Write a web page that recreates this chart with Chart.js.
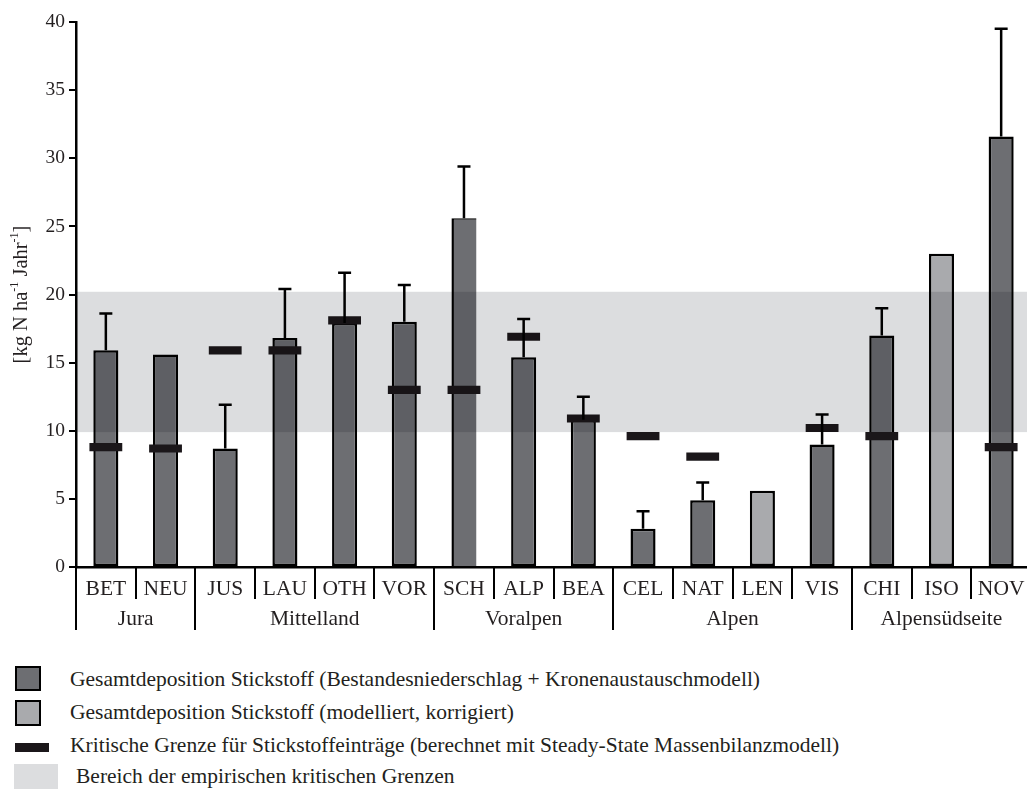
<!DOCTYPE html>
<html>
<head>
<meta charset="utf-8">
<script src="https://cdn.jsdelivr.net/npm/chart.js@4/dist/chart.umd.min.js"></script>
<style>
html,body{margin:0;padding:0;background:#fff;overflow:hidden;width:1027px;height:789px}
#wrap{position:relative;width:1027px;height:789px;overflow:hidden}
#chart{position:absolute;left:0;top:0}
.sw{position:absolute;box-sizing:border-box}
.txt{position:absolute;font-family:"Liberation Serif",serif;font-size:21.5px;line-height:24px;color:#231f20;white-space:nowrap}
</style>
</head>
<body>
<div id="wrap">
<canvas id="chart" width="1031" height="640"></canvas>

<div class="sw" style="left:15px;top:666px;width:26px;height:25px;background:#6d6e72;border:2.5px solid #000"></div>
<div class="txt" style="left:70px;top:667px">Gesamtdeposition Stickstoff (Bestandesniederschlag + Kronenaustauschmodell)</div>

<div class="sw" style="left:15px;top:700px;width:26px;height:26px;background:#a9aaad;border:2.5px solid #000"></div>
<div class="txt" style="left:70px;top:700px">Gesamtdeposition Stickstoff (modelliert, korrigiert)</div>

<div class="sw" style="left:15px;top:743px;width:34px;height:9px;background:#1b171a"></div>
<div class="txt" style="left:70px;top:733px">Kritische Grenze für Stickstoffeinträge (berechnet mit Steady-State Massenbilanzmodell)</div>

<div class="sw" style="left:14px;top:764px;width:44px;height:25px;background:#dcdddf"></div>
<div class="txt" style="left:76px;top:764px">Bereich der empirischen kritischen Grenzen</div>
</div>

<script>
/* DATA */

const sites=["BET","NEU","JUS","LAU","OTH","VOR","SCH","ALP","BEA","CEL","NAT","LEN","VIS","CHI","ISO","NOV"];
const deposition=[15.9,15.6,8.7,16.8,17.9,18.0,25.6,15.4,10.8,2.8,4.9,5.6,9.0,17.0,23.0,31.6];
const errorTop=[18.6,null,11.9,20.4,21.6,20.7,29.4,18.2,12.5,4.1,6.2,null,11.2,19.0,null,39.5];
const criticalLoad=[8.8,8.7,15.9,15.9,18.1,13.0,13.0,16.9,10.9,9.6,8.1,null,10.2,9.6,null,8.8];
const modelledSites=["LEN","ISO"];
const regions=["Jura","Mittelland","Voralpen","Alpen","Alpensüdseite"];
const regionSizes=[2,4,3,4,3];
const empiricalRange=[9.9,20.2];
const yTicks=[0,5,10,15,20,25,30,35,40];

const dark="#6d6e72", light="#a9aaad", ink="#231f20", serif="'Liberation Serif', serif";


/* EXTRA DRAWING: error bars, band, x labels, regions, y title */

const extras={
id:"extras",

afterDatasetsDraw(chart){

const {ctx,chartArea:a,scales:{y}}=chart;
const meta=chart.getDatasetMeta(1);

ctx.save();
ctx.strokeStyle="#000";
ctx.lineWidth=2.5;

errorTop.forEach((e,i)=>{
if(e==null) return;
const el=meta.data[i];
const yt=y.getPixelForValue(e);
ctx.beginPath();
ctx.moveTo(el.x,el.y);
ctx.lineTo(el.x,yt);
ctx.moveTo(el.x-6.5,yt);
ctx.lineTo(el.x+6.5,yt);
ctx.stroke();
});

ctx.globalCompositeOperation="multiply";
ctx.fillStyle="#dcdddf";
const yb=y.getPixelForValue(empiricalRange[0]);
const ytop=y.getPixelForValue(empiricalRange[1]);
ctx.fillRect(a.left,ytop,a.right-a.left,yb-ytop);

ctx.restore();

},

afterDraw(chart){

const {ctx,chartArea:a,scales:{x}}=chart;
const n=sites.length;
const edge=i=> i===0 ? a.left : i===n ? a.right : (x.getPixelForValue(i-1)+x.getPixelForValue(i))/2;

const groupEdges=[0];
regionSizes.forEach(s=>groupEdges.push(groupEdges[groupEdges.length-1]+s));

ctx.save();
ctx.strokeStyle="#000";
ctx.lineWidth=2;

for(let i=0;i<=n;i++){
const xe=Math.round(edge(i));
const long=groupEdges.includes(i);
ctx.beginPath();
ctx.moveTo(xe,a.bottom);
ctx.lineTo(xe,a.bottom+(long?63:32));
ctx.stroke();
}

ctx.fillStyle=ink;
ctx.textAlign="center";
ctx.textBaseline="middle";
ctx.font="21.5px "+serif;

sites.forEach((s,i)=>{
ctx.fillText(s,x.getPixelForValue(i),a.bottom+22);
});

regions.forEach((r,k)=>{
const cx=(edge(groupEdges[k])+edge(groupEdges[k+1]))/2;
ctx.fillText(r,cx,a.bottom+52);
});

/* y title with superscripts */
const parts=[["[kg N ha",20.5,0],["-1",12,-7],[" Jahr",20.5,0],["-1",12,-7],["]",20.5,0]];
let total=0;
parts.forEach(p=>{ctx.font=p[1]+"px "+serif;total+=ctx.measureText(p[0]).width;});

ctx.translate(22,(a.top+a.bottom)/2);
ctx.rotate(-Math.PI/2);
ctx.textAlign="left";
let px=-total/2;
parts.forEach(p=>{
ctx.font=p[1]+"px "+serif;
ctx.fillText(p[0],px,p[2]);
px+=ctx.measureText(p[0]).width;
});

ctx.restore();

}
};


/* CHART */

new Chart(document.getElementById("chart"),{

type:"bar",

data:{
labels:sites,
datasets:[
{
label:"Kritische Grenze",
data:criticalLoad.map(c=>c==null?null:[c-0.3,c+0.3]),
backgroundColor:"#1b171a",
borderWidth:0,
grouped:false,
barPercentage:0.55,
categoryPercentage:1,
order:0
},
{
label:"Gesamtdeposition Stickstoff",
data:deposition,
backgroundColor:c=>modelledSites.includes(sites[c.dataIndex])?light:dark,
borderColor:"#000",
borderWidth:c=>sites[c.dataIndex]==="SCH"?{left:2.5,top:1.5,right:0,bottom:0}:2.5,
borderSkipped:false,
grouped:false,
barPercentage:0.42,
categoryPercentage:1,
order:1
}
]
},

options:{
responsive:false,
animation:false,
events:[],
layout:{padding:{top:22,left:0,right:0,bottom:0}},
plugins:{legend:{display:false},tooltip:{enabled:false}},
scales:{
x:{
offset:true,
grid:{display:false},
border:{color:"#000",width:2.5},
ticks:{display:false},
afterFit(s){s.height=73;}
},
y:{
min:0,
max:40,
afterBuildTicks(s){s.ticks=yTicks.map(v=>({value:v}));},
ticks:{font:{family:"Liberation Serif",size:19.5},color:ink,padding:4},
grid:{drawOnChartArea:false,drawTicks:true,tickLength:7,color:"#000",lineWidth:2},
border:{color:"#000",width:2.5},
afterFit(s){s.width=76;s.paddingTop=0;s.paddingBottom=0;}
}
}
},

plugins:[extras]

});
</script>
</body>
</html>
